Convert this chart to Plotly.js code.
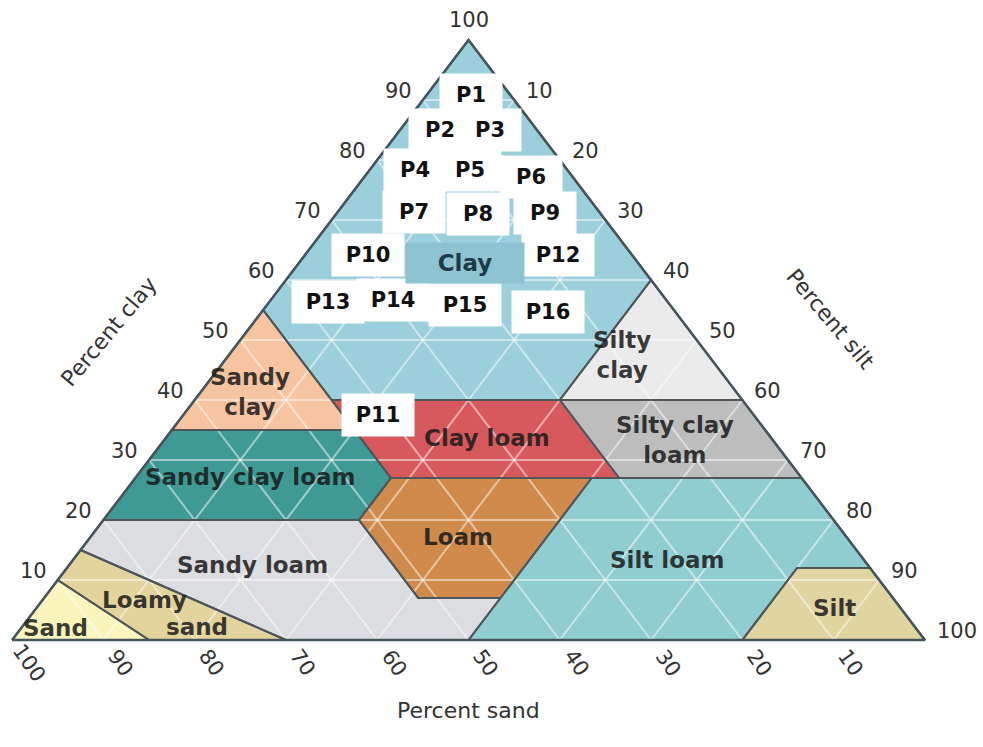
<!DOCTYPE html>
<html>
<head>
<meta charset="utf-8">
<script src="https://cdn.plot.ly/plotly-3.0.1.min.js"></script>
<style>html,body{margin:0;padding:0;background:#fff;}#chart{width:983px;height:747px;}</style>
</head>
<body>
<div id="chart"></div>
<script>
// ---------- DATA (percent sand, percent silt, percent clay) ----------
const classNames = ['Sand','Loamy sand','Sandy loam','Loam','Silt loam','Silt',
  'Sandy clay loam','Clay loam','Silty clay loam','Sandy clay','Silty clay','Clay'];
const sandPoly          = [[100,0,0],[85,15,0],[90,0,10]];
const loamySandPoly     = [[85,15,0],[70,30,0],[85,0,15],[90,0,10]];
const sandyLoamPoly     = [[70,30,0],[50,50,0],[43,50,7],[52,41,7],[52,28,20],[80,0,20],[85,0,15]];
const loamPoly          = [[43,50,7],[23,50,27],[45,28,27],[52,28,20],[52,41,7]];
const siltLoamPoly      = [[50,50,0],[20,80,0],[8,80,12],[0,88,12],[0,73,27],[23,50,27],[43,50,7]];
const siltPoly          = [[20,80,0],[0,100,0],[0,88,12],[8,80,12]];
const sandyClayLoamPoly = [[80,0,20],[52,28,20],[45,28,27],[45,20,35],[65,0,35]];
const clayLoamPoly      = [[45,28,27],[20,53,27],[20,40,40],[45,15,40],[45,20,35]];
const siltyClayLoamPoly = [[20,53,27],[0,73,27],[0,60,40],[20,40,40]];
const sandyClayPoly     = [[65,0,35],[45,20,35],[45,0,55]];
const siltyClayPoly     = [[20,40,40],[0,60,40],[0,40,60]];
const clayPoly          = [[45,0,55],[45,15,40],[20,40,40],[0,40,60],[0,0,100]];

const pointLabels = ['P1','P2','P3','P4','P5','P6','P7','P8','P9','P10','P12','P13','P14','P15','P16','P11'];
const pointClay   = [90.8,85.0,85.0,78.3,78.3,77.2,71.3,71.0,71.2,64.2,64.2,56.3,56.7,55.8,54.7,37.5];
const pointSilt   = [4.9, 4.4, 9.9, 5.0, 11.0,18.2,8.4, 15.5,22.8,6.9, 27.7,6.5, 13.4,21.7,31.4,21.3];
const pointSand   = [4.3, 10.6,5.1, 16.7,10.7,4.6, 20.3,13.5,6.0, 28.9,8.1, 37.2,29.9,22.5,13.9,41.2];

const tickValues = [10,20,30,40,50,60,70,80,90,100];
const tickLabels = ['10','20','30','40','50','60','70','80','90','100'];

// ---------- STYLE ----------
const polys = [sandPoly,loamySandPoly,sandyLoamPoly,loamPoly,siltLoamPoly,siltPoly,
  sandyClayLoamPoly,clayLoamPoly,siltyClayLoamPoly,sandyClayPoly,siltyClayPoly,clayPoly];
const fillColors = ['#faf5bd','#e3d49d','#dcdde1','#d08a4b','#8fcdd1','#e0d4a1',
  '#3f9994','#d7595d','#bdbdbd','#f6c4a0','#ebebeb','#9ccfdc'];
// label anchors as [clay, silt] plus text
const classLabelPos = [
  {t:'Sand', c:2.0, s:3.7},
  {t:'Loamy', c:6.7, s:11.2},
  {t:'sand', c:2.2, s:19.2},
  {t:'Sandy loam', c:12.5, s:20.1},
  {t:'Loam', c:17.2, s:40.3},
  {t:'Silt loam', c:13.3, s:65.2},
  {t:'Silt', c:5.3, s:87.5},
  {t:'Sandy clay loam', c:27.2, s:12.5},
  {t:'Clay loam', c:33.7, s:35.2},
  {t:'Silty clay<br>loam', c:33.3, s:56.0},
  {t:'Sandy<br>clay', c:41.3, s:5.4},
  {t:'Silty<br>clay', c:47.5, s:43.1}
];
const FONT = 'DejaVu Sans, Verdana, sans-serif';

function proj(sand, silt, clay){ return [silt + clay/2, clay]; }

const traces = [];
// filled regions
polys.forEach((p,i)=>{
  const pts = p.concat([p[0]]).map(v=>proj(v[0],v[1],v[2]));
  traces.push({type:'scatter', mode:'lines', x:pts.map(q=>q[0]), y:pts.map(q=>q[1]),
    fill:'toself', fillcolor:fillColors[i], line:{width:0, color:fillColors[i]},
    name:classNames[i], hoverinfo:'skip', showlegend:false});
});
// grid lines
const gx=[], gy=[];
tickValues.filter(k=>k<100).forEach(k=>{
  let a=proj(100-k,0,k), b=proj(0,100-k,k);
  gx.push(a[0],b[0],null); gy.push(a[1],b[1],null);
  a=proj(100-k,k,0); b=proj(0,k,100-k);
  gx.push(a[0],b[0],null); gy.push(a[1],b[1],null);
  a=proj(k,100-k,0); b=proj(k,0,100-k);
  gx.push(a[0],b[0],null); gy.push(a[1],b[1],null);
});
traces.push({type:'scatter', mode:'lines', x:gx, y:gy,
  line:{color:'rgba(255,255,255,0.5)', width:2}, hoverinfo:'skip', showlegend:false});
// region outlines
const ox=[], oy=[];
polys.forEach(p=>{
  p.concat([p[0]]).forEach(v=>{const q=proj(v[0],v[1],v[2]); ox.push(q[0]); oy.push(q[1]);});
  ox.push(null); oy.push(null);
});
traces.push({type:'scatter', mode:'lines', x:ox, y:oy,
  line:{color:'#4f5659', width:2}, hoverinfo:'skip', showlegend:false});
// triangle outline
const tri=[[100,0,0],[0,100,0],[0,0,100],[100,0,0]].map(v=>proj(v[0],v[1],v[2]));
traces.push({type:'scatter', mode:'lines', x:tri.map(q=>q[0]), y:tri.map(q=>q[1]),
  line:{color:'#46545b', width:2.5}, hoverinfo:'skip', showlegend:false});

const ann = [];
// class labels
classLabelPos.forEach(l=>{
  const q = proj(100-l.c-l.s, l.s, l.c);
  ann.push({x:q[0], y:q[1], xref:'x', yref:'y', text:l.t, showarrow:false,
    font:{family:FONT, size:23, color:'rgba(25,25,25,0.85)', weight:'bold'}});
});
// tick labels
const tickFont = {family:FONT, size:21, color:'#333'};
tickValues.forEach((k,i)=>{
  // clay (left edge)
  if(k<100){
    const q = proj(100-k,0,k);
    ann.push({x:q[0], y:q[1], xref:'x', yref:'y', text:tickLabels[i], showarrow:false,
      xanchor:'right', yanchor:'middle', xshift:-9, yshift:9, font:tickFont});
  } else {
    const q = proj(0,0,100);
    ann.push({x:q[0], y:q[1], xref:'x', yref:'y', text:tickLabels[i], showarrow:false,
      xanchor:'center', yanchor:'bottom', yshift:6, font:tickFont});
  }
  // silt (right edge)
  let q = proj(0,k,100-k);
  ann.push({x:q[0], y:q[1], xref:'x', yref:'y', text:tickLabels[i], showarrow:false,
    xanchor:'left', yanchor:'middle', xshift:10, yshift:9, font:tickFont});
  // sand (bottom edge)
  q = proj(k,100-k,0);
  ann.push({x:q[0], y:q[1], xref:'x', yref:'y', text:tickLabels[i], showarrow:false,
    xanchor:'center', yanchor:'middle', xshift:17, yshift:-23, textangle:55, font:tickFont});
});
// axis titles
const titleFont = {family:FONT, size:22, color:'#333'};
ann.push({x:0.114, y:0.513, xref:'paper', yref:'paper', text:'Percent clay', showarrow:false,
  textangle:-50, font:titleFont, xanchor:'center', yanchor:'middle'});
ann.push({x:0.888, y:0.534, xref:'paper', yref:'paper', text:'Percent silt', showarrow:false,
  textangle:50, font:titleFont, xanchor:'center', yanchor:'middle'});
ann.push({x:0.4995, y:-0.1, xref:'paper', yref:'paper', text:'Percent sand',
  showarrow:false, font:titleFont, xanchor:'center', yanchor:'middle'});
// sample points (white boxes)
pointLabels.forEach((t,i)=>{
  const q = proj(pointSand[i], pointSilt[i], pointClay[i]);
  ann.push({x:q[0], y:q[1], xref:'x', yref:'y', text:t, showarrow:false,
    bgcolor:'#ffffff', width:t.length>2?72:62, height:42, borderpad:0,
    font:{family:FONT, size:21, color:'#111', weight:'bold'}});
});
// "Clay" class label drawn over the boxes
{
  const c = 62.8, s = 18.2;
  const q = proj(100-c-s, s, c);
  ann.push({x:q[0], y:q[1], xref:'x', yref:'y', text:'Clay', showarrow:false,
    bgcolor:'#8ec4d1', width:116, height:38,
    font:{family:FONT, size:23, color:'#1c3a48', weight:'bold'}});
}

const layout = {
  width:983, height:747, autosize:false,
  margin:{l:3, r:49, t:31, b:98, pad:0},
  paper_bgcolor:'#ffffff', plot_bgcolor:'rgba(0,0,0,0)',
  xaxis:{range:[-1,101], visible:false, fixedrange:true},
  yaxis:{range:[-1.5,101.5], visible:false, fixedrange:true},
  showlegend:false, annotations:ann
};

Plotly.newPlot('chart', traces, layout, {staticPlot:true, displayModeBar:false});
</script>
</body>
</html>
